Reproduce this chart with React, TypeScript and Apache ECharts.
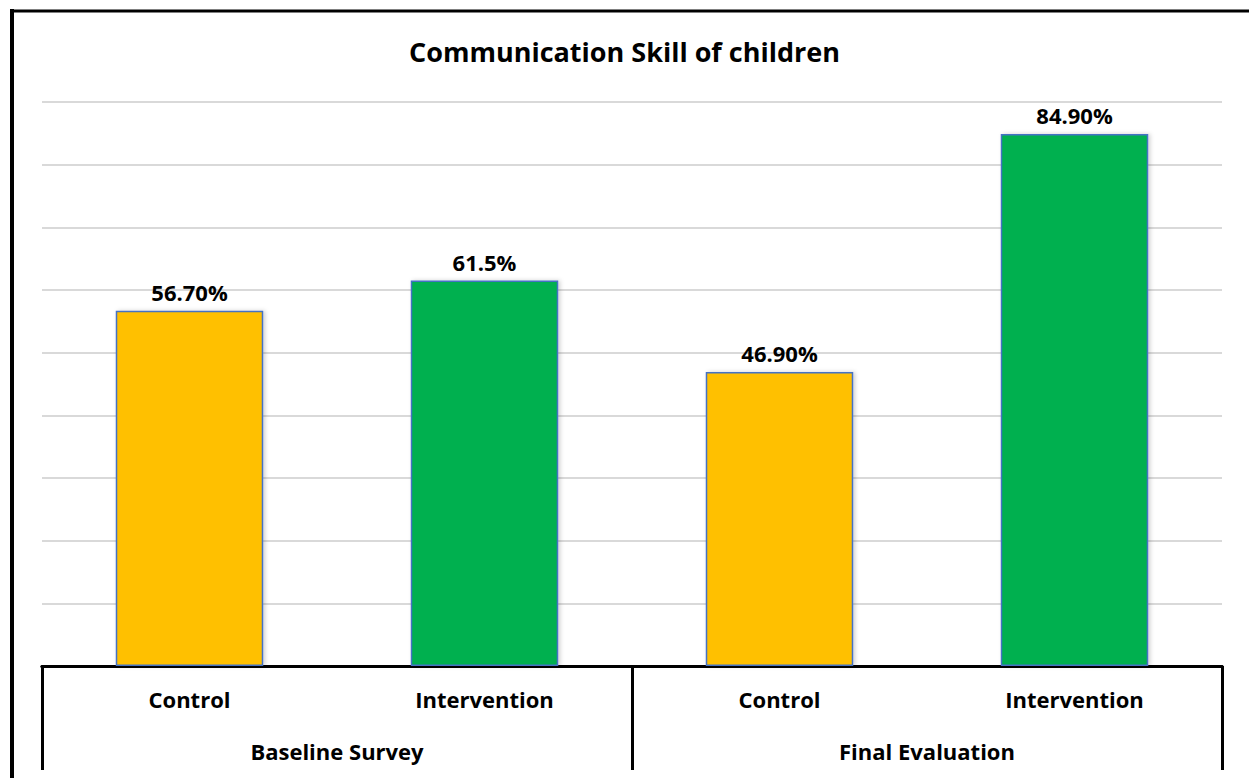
import React, { useEffect, useRef } from "react";
import * as echarts from "echarts";

const title = "Communication Skill of children";
const categories = ["Control", "Intervention", "Control", "Intervention"];
const groups = ["Baseline Survey", "Final Evaluation"];
const values = [56.7, 61.5, 46.9, 84.9];
const valueLabels = ["56.70%", "61.5%", "46.90%", "84.90%"];
const barColors = ["#FFC000", "#00B050", "#FFC000", "#00B050"];
const yMin = 0;
const yMax = 90;
const yInterval = 10;

const FONT = "'Open Sans', Lato, sans-serif";

export default function App() {
  const ref = useRef<HTMLDivElement>(null);
  useEffect(() => {
    if (!ref.current) return;
    const chart = echarts.init(ref.current, null, { renderer: "svg" });
    chart.setOption({
      animation: false,
      backgroundColor: "#ffffff",
      title: {
        text: title,
        left: "center",
        top: 33,
        textStyle: { fontFamily: FONT, fontWeight: "bold", fontSize: 27, color: "#000" },
      },
      grid: { left: 42, right: 27, top: 102, bottom: 112, containLabel: false },
      xAxis: [
        {
          type: "category",
          data: categories,
          position: "bottom",
          offset: 0,
          axisLine: { show: true, lineStyle: { color: "#000", width: 3 } },
          axisTick: { show: false },
          axisLabel: {
            margin: 22,
            fontFamily: FONT,
            fontWeight: "bold",
            fontSize: 22,
            color: "#000",
          },
        },
        {
          type: "category",
          data: groups,
          position: "bottom",
          offset: 0,
          axisLine: { show: true, lineStyle: { color: "#000", width: 3 } },
          axisTick: { show: true, length: 104, lineStyle: { color: "#000", width: 3 } },
          axisLabel: {
            margin: 74,
            fontFamily: FONT,
            fontWeight: "bold",
            fontSize: 22,
            color: "#000",
          },
        },
      ],
      yAxis: {
        type: "value",
        min: yMin,
        max: yMax,
        interval: yInterval,
        axisLine: { show: false },
        axisTick: { show: false },
        axisLabel: { show: false },
        splitLine: { show: true, lineStyle: { color: "#D9D9D9", width: 2 } },
      },
      series: [
        {
          type: "bar",
          xAxisIndex: 0,
          barWidth: "50%",
          data: values.map((v, i) => ({
            value: v,
            itemStyle: {
              color: barColors[i],
              borderColor: "#4472C4",
              borderWidth: 1.5,
              shadowColor: "rgba(0,0,0,0.18)",
              shadowBlur: 4,
              shadowOffsetX: 2,
            },
          })),
          label: {
            show: true,
            position: "top",
            distance: 8,
            formatter: (p: any) => valueLabels[p.dataIndex],
            fontFamily: FONT,
            fontWeight: "bold",
            fontSize: 22,
            color: "#000",
          },
        },
      ],
      graphic: [
        {
          type: "line",
          shape: { x1: 12, y1: 9, x2: 12, y2: 778 },
          style: { stroke: "#000", lineWidth: 4 },
        },
        {
          type: "line",
          shape: { x1: 10, y1: 11, x2: 1249, y2: 11 },
          style: { stroke: "#000", lineWidth: 3 },
        },
      ],
    });
    return () => chart.dispose();
  }, []);
  return (
    <div
      ref={ref}
      style={{ position: "absolute", left: 0, top: 0, width: 1249, height: 778 }}
    />
  );
}
